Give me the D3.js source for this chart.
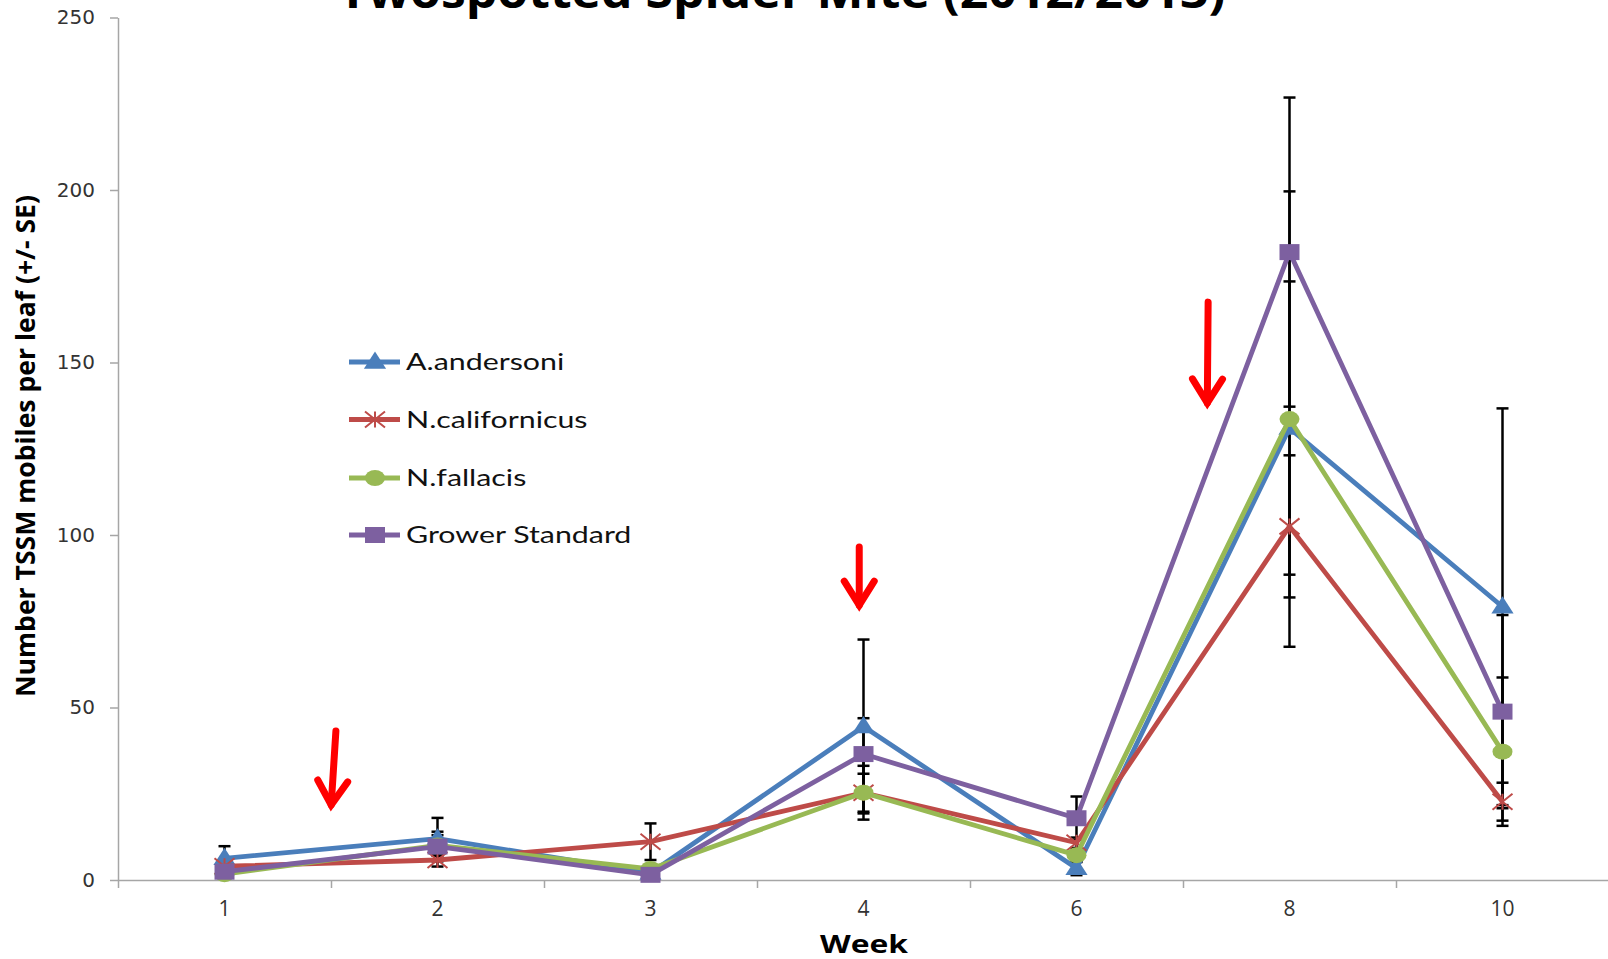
<!DOCTYPE html>
<html>
<head>
<meta charset="utf-8">
<script src="https://cdn.jsdelivr.net/npm/d3@7"></script>
<style>
  html, body { margin: 0; padding: 0; background: #fff; }
  svg { display: block; }
</style>
</head>
<body>
<svg id="chart" width="1608" height="959"></svg>
<script>
// Twospotted spider mite counts per leaf, 2012/2013 season
const weeks = ["1", "2", "3", "4", "6", "8", "10"];
const seriesNames = ["A.andersoni", "N.californicus", "N.fallacis", "Grower Standard"];

const andersoni      = [6.3, 12.0, 2.0, 44.5, 3.4, 131.0, 79.2];
const andersoniSE    = [3.5, 6.0, 1.0, 25.2, 2.0, 42.5, 57.5];
const californicus   = [4.0, 5.8, 11.1, 25.3, 10.8, 102.5, 22.7];
const californicusSE = [1.0, 1.9, 5.3, 5.5, 1.5, 20.6, 5.5];
const fallacis       = [1.7, 10.0, 3.2, 25.3, 7.2, 133.6, 37.2];
const fallacisSE     = [0.8, 3.0, 1.0, 7.8, 2.0, 66.0, 21.5];
const grower         = [2.4, 9.7, 1.5, 36.5, 17.9, 182.0, 48.8];
const growerSE       = [1.0, 4.3, 0.8, 10.4, 6.3, 44.8, 28.0];

const yTicks = [0, 50, 100, 150, 200, 250];

// Release timing markers: position in week slots (0 = left edge), value at shaft top and tip
const releases = [
  { fromSlot: 1.023, toSlot: 1.000, fromVal: 43.2, toVal: 20.9 },
  { fromSlot: 3.480, toSlot: 3.480, fromVal: 96.5, toVal: 78.8 },
  { fromSlot: 5.118, toSlot: 5.114, fromVal: 167.5, toVal: 137.4 }
];

const series = [
  { name: seriesNames[0], values: andersoni,    se: andersoniSE,    color: "#4A7EBB", marker: "triangle" },
  { name: seriesNames[1], values: californicus, se: californicusSE, color: "#BE4B48", marker: "star" },
  { name: seriesNames[2], values: fallacis,     se: fallacisSE,     color: "#98B954", marker: "circle" },
  { name: seriesNames[3], values: grower,       se: growerSE,       color: "#7D60A0", marker: "square" }
];

const svg = d3.select("#chart");
const plot = { left: 118, right: 1609, top: 17.5, bottom: 880 };

const x = d3.scaleBand().domain(weeks).range([plot.left, plot.right]).padding(0);
const slot = d3.scaleLinear().domain([0, weeks.length]).range([plot.left, plot.right]);
const y = d3.scaleLinear().domain([0, 250]).range([plot.bottom, plot.top]);
const cx = w => x(w) + x.bandwidth() / 2;

const axisColor = "#A6A6A6";

// Y axis
const yAxis = svg.append("g")
  .attr("transform", `translate(${plot.left},0)`)
  .call(d3.axisLeft(y).tickValues(yTicks).tickSize(8).tickSizeOuter(0).tickPadding(15));
yAxis.select(".domain").attr("stroke", axisColor).attr("stroke-width", 1.5);
yAxis.selectAll(".tick line").attr("stroke", axisColor).attr("stroke-width", 1.5);
yAxis.selectAll(".tick text")
  .attr("font-family", "'DejaVu Sans', sans-serif")
  .attr("font-size", 20)
  .attr("fill", "#333");

// X axis: slot boundaries as ticks, week labels centred in each slot
const xTickAxis = svg.append("g")
  .attr("transform", `translate(0,${plot.bottom})`)
  .call(d3.axisBottom(slot).tickValues(d3.range(weeks.length + 1))
    .tickSize(8).tickSizeOuter(0).tickFormat(""));
xTickAxis.select(".domain").attr("stroke", axisColor).attr("stroke-width", 1.5);
xTickAxis.selectAll(".tick line").attr("stroke", axisColor).attr("stroke-width", 1.5);

const xAxis = svg.append("g")
  .attr("transform", `translate(0,${plot.bottom})`)
  .call(d3.axisBottom(x).tickSize(0).tickPadding(21));
xAxis.select(".domain").remove();
xAxis.selectAll(".tick text")
  .attr("font-family", "'Liberation Sans Narrow', 'Arial Narrow', 'Open Sans', sans-serif")
  .attr("font-size", 21)
  .attr("fill", "#333");

// Error bars (±SE)
const ebar = svg.append("g").attr("stroke", "#000").attr("stroke-width", 2.5).attr("fill", "none");
series.forEach(s => {
  s.values.forEach((v, i) => {
    const px = cx(weeks[i]);
    const lo = Math.max(0, v - s.se[i]), hi = v + s.se[i];
    ebar.append("line").attr("x1", px).attr("x2", px).attr("y1", y(lo)).attr("y2", y(hi));
    ebar.append("line").attr("x1", px - 6).attr("x2", px + 6).attr("y1", y(hi)).attr("y2", y(hi));
    ebar.append("line").attr("x1", px - 6).attr("x2", px + 6).attr("y1", y(lo)).attr("y2", y(lo));
  });
});

// Marker drawing
function drawMarker(g, type, color) {
  if (type === "triangle") {
    g.append("path").attr("d", d3.symbol(d3.symbolTriangle, 170)())
      .attr("transform", "translate(0,1) scale(1.12,1)").attr("fill", color);
  } else if (type === "square") {
    g.append("path").attr("d", d3.symbol(d3.symbolSquare, 256)())
      .attr("transform", "scale(1.25,1)").attr("fill", color);
  } else if (type === "circle") {
    g.append("ellipse").attr("rx", 10).attr("ry", 8).attr("fill", color);
  } else if (type === "star") {
    const p = "M-10,-8L10,8M-10,8L10,-8M0,-8L0,8";
    g.append("path").attr("d", p).attr("stroke", color).attr("stroke-width", 2).attr("fill", "none");
  }
}

const line = d3.line().x((d, i) => cx(weeks[i])).y(d => y(d));

series.forEach(s => {
  const g = svg.append("g");
  g.append("path").datum(s.values)
    .attr("d", line)
    .attr("fill", "none")
    .attr("stroke", s.color)
    .attr("stroke-width", 4.8)
    .attr("stroke-linejoin", "round");
  s.values.forEach((v, i) => {
    const m = g.append("g").attr("transform", `translate(${cx(weeks[i])},${y(v)})`);
    drawMarker(m, s.marker, s.color);
  });
});

// Legend
const legend = svg.append("g");
const legendRows = [362, 419.5, 478, 535];
series.forEach((s, i) => {
  const row = legend.append("g").attr("transform", `translate(349,${legendRows[i]})`);
  row.append("line").attr("x1", 0).attr("x2", 51).attr("y1", 0).attr("y2", 0)
    .attr("stroke", s.color).attr("stroke-width", 4.8);
  const m = row.append("g").attr("transform", "translate(26,0)");
  drawMarker(m, s.marker, s.color);
  row.append("text")
    .attr("transform", "translate(57,8) scale(1.32,1)")
    .attr("font-family", "Lato, 'Open Sans', sans-serif")
    .attr("font-size", 23)
    .attr("fill", "#111")
    .text(s.name);
});

// Release arrows
const arrows = svg.append("g").attr("stroke", "#FF0000").attr("fill", "none")
  .attr("stroke-width", 7).attr("stroke-linecap", "round").attr("stroke-linejoin", "miter");
releases.forEach(r => {
  const x1 = slot(r.fromSlot), y1 = y(r.fromVal);
  const x2 = slot(r.toSlot), y2 = y(r.toVal);
  const len = Math.hypot(x2 - x1, y2 - y1);
  const ux = (x2 - x1) / len, uy = (y2 - y1) / len;
  const px = -uy, py = ux;
  const tipX = x2 - ux * 3, tipY = y2 - uy * 3;
  arrows.append("line").attr("x1", x1).attr("y1", y1).attr("x2", tipX).attr("y2", tipY);
  const back = 24, half = 15;
  arrows.append("path").attr("d",
    `M${tipX - ux * back + px * half},${tipY - uy * back + py * half}` +
    `L${tipX},${tipY}` +
    `L${tipX - ux * back - px * half},${tipY - uy * back - py * half}`);
});

// Title (runs off the top edge)
svg.append("text")
  .attr("x", 782).attr("y", 8)
  .attr("text-anchor", "middle")
  .attr("font-family", "'Open Sans', sans-serif")
  .attr("font-weight", 700)
  .attr("font-size", 46)
  .attr("textLength", 887).attr("lengthAdjust", "spacingAndGlyphs")
  .attr("fill", "#000")
  .text("Twospotted Spider Mite (2012/2013)");

// Axis titles
svg.append("text")
  .attr("transform", "translate(35,446) rotate(-90)")
  .attr("text-anchor", "middle")
  .attr("font-family", "'Liberation Sans Narrow', 'Open Sans', sans-serif")
  .attr("font-weight", 700)
  .attr("font-size", 27)
  .attr("textLength", 502).attr("lengthAdjust", "spacingAndGlyphs")
  .attr("fill", "#000")
  .text("Number TSSM mobiles per leaf (+/- SE)");

svg.append("text")
  .attr("x", 864).attr("y", 953)
  .attr("text-anchor", "middle")
  .attr("font-family", "'Open Sans', sans-serif")
  .attr("font-weight", 700)
  .attr("font-size", 25)
  .attr("textLength", 88).attr("lengthAdjust", "spacingAndGlyphs")
  .attr("fill", "#000")
  .text("Week");
</script>
</body>
</html>
